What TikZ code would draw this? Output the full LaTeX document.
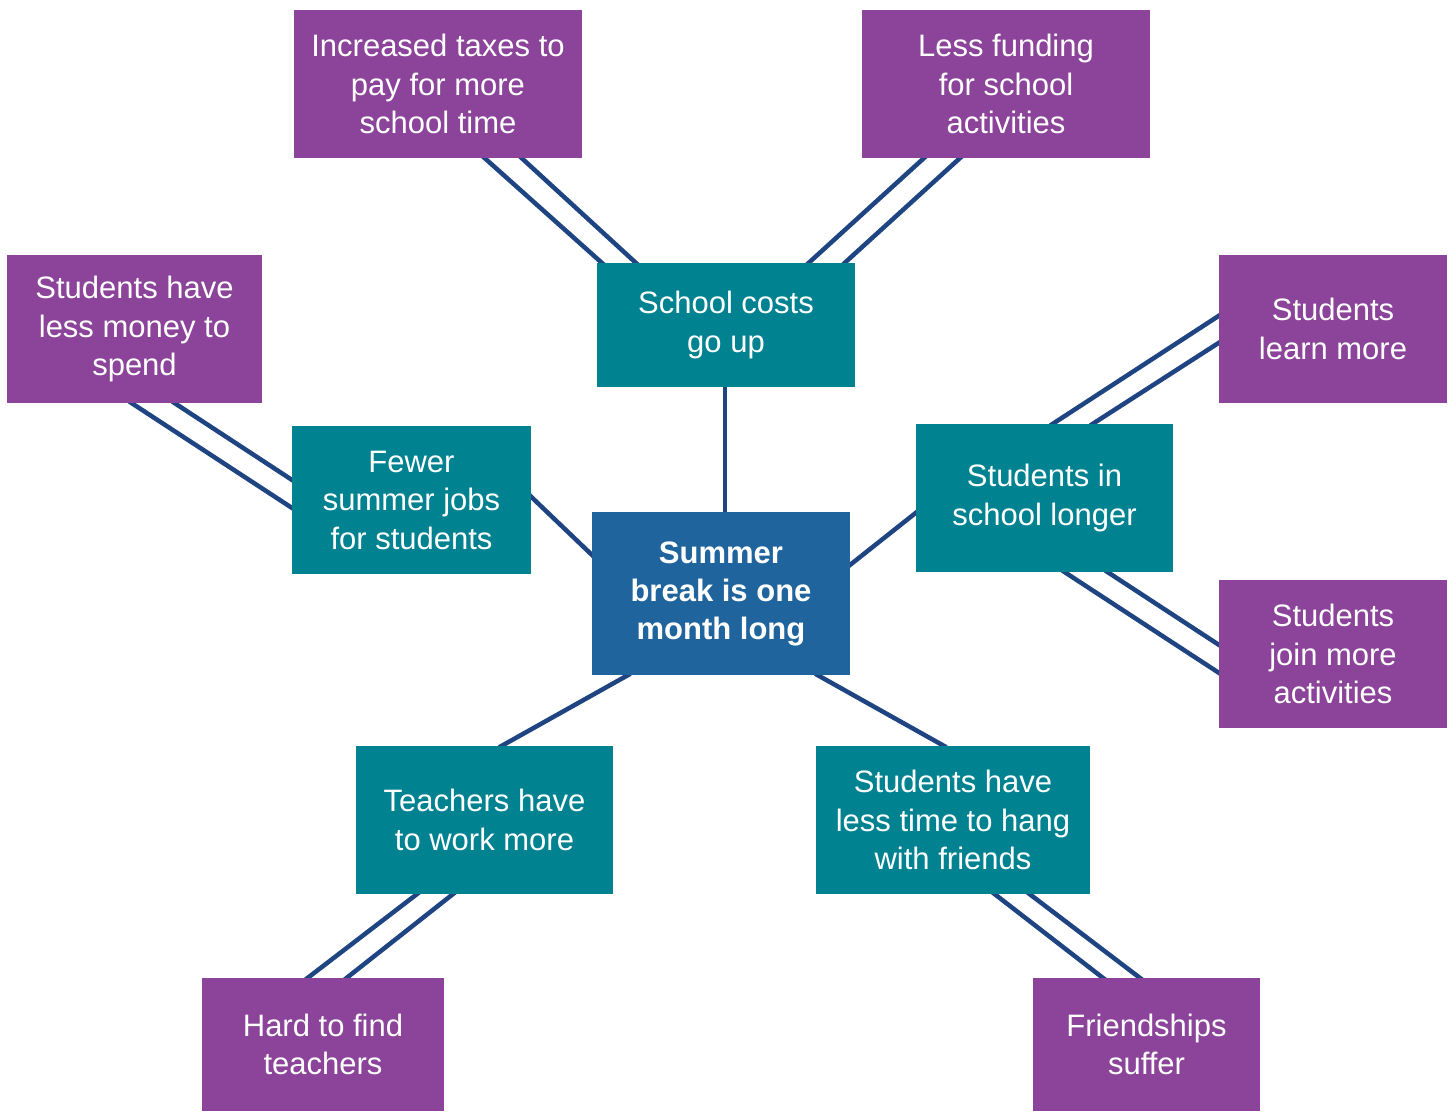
\documentclass[tikz,border=0pt]{standalone}
\usepackage{fontspec}
\setmainfont{Liberation Sans}
\usetikzlibrary{calc,backgrounds}
\definecolor{purp}{HTML}{8B4499}
\definecolor{tealc}{HTML}{008291}
\definecolor{cblue}{HTML}{1F649C}
\definecolor{navyc}{HTML}{1F4482}
\begin{document}
\begin{tikzpicture}[x=1pt,y=-1pt,
  box/.style={rectangle, inner sep=0pt, text=white, align=center, font=\fontsize{31}{38.5}\selectfont},
  outer/.style={box, fill=purp},
  mid/.style={box, fill=tealc},
  core/.style={box, fill=cblue, font=\fontsize{31}{38}\selectfont\bfseries},
  link/.style={draw=navyc, line width=4.5pt, shorten <=-3pt, shorten >=-3pt}]
\useasboundingbox (0,0) rectangle (1452,1112);
% nodes
\node[core, minimum width=258pt, minimum height=163pt] (cb) at (721,593.5) {Summer\\ break is one\\ month long};
\node[mid, minimum width=258pt, minimum height=124pt] (sc) at (726,325) {School costs\\ go up};
\node[outer, minimum width=288pt, minimum height=148pt] (tax) at (438,84) {Increased taxes to\\ pay for more\\ school time};
\node[outer, minimum width=288pt, minimum height=148pt] (lf) at (1006,84) {Less funding\\ for school\\ activities};
\node[outer, minimum width=255pt, minimum height=148pt] (money) at (134.5,329) {Students have\\ less money to\\ spend};
\node[mid, minimum width=239pt, minimum height=148pt] (jobs) at (411.5,500) {Fewer\\ summer jobs\\ for students};
\node[mid, minimum width=257pt, minimum height=148pt] (sl) at (1044.5,498) {Students in\\ school longer};
\node[outer, minimum width=228pt, minimum height=148pt] (lm) at (1333,329) {Students\\ learn more};
\node[outer, minimum width=228pt, minimum height=148pt] (jm) at (1333,654) {Students\\ join more\\ activities};
\node[mid, minimum width=257pt, minimum height=148pt] (tw) at (484.5,820) {Teachers have\\ to work more};
\node[mid, minimum width=274pt, minimum height=148pt] (lt) at (953,820) {Students have\\ less time to hang\\ with friends};
\node[outer, minimum width=242pt, minimum height=133pt] (hf) at (323,1044.5) {Hard to find\\ teachers};
\node[outer, minimum width=227pt, minimum height=133pt] (fs) at (1146.5,1044.5) {Friendships\\ suffer};
\begin{pgfonlayer}{background}
\fill[white] (0,0) rectangle (1452,1112);
% single links
\draw[link] ($(sc.south west)+(128,0)$) -- ($(cb.north west)+(133,0)$);
\draw[link] ($(jobs.north east)+(0,71)$) -- ($(cb.north west)+(0,43)$);
\draw[link] ($(sl.north west)+(0,89)$) -- ($(cb.north east)+(0,53)$);
\draw[link] ($(cb.south west)+(36,0)$) -- ($(tw.north west)+(146,0)$);
\draw[link] ($(cb.south west)+(226,0)$) -- ($(lt.north west)+(128,0)$);
% double links
\draw[link] ($(tax.south west)+(191,0)$) -- ($(sc.north west)+(5,0)$);
\draw[link] ($(tax.south west)+(228,0)$) -- ($(sc.north west)+(39,0)$);
\draw[link] ($(lf.south west)+(62,0)$) -- ($(sc.north west)+(212,0)$);
\draw[link] ($(lf.south west)+(98,0)$) -- ($(sc.north west)+(248,0)$);
\draw[link] ($(money.south west)+(125,0)$) -- ($(jobs.north west)+(0,82)$);
\draw[link] ($(money.south west)+(168,0)$) -- ($(jobs.north west)+(0,54)$);
\draw[link] ($(sl.north west)+(137,0)$) -- ($(lm.north west)+(0,61)$);
\draw[link] ($(sl.north west)+(177,0)$) -- ($(lm.north west)+(0,88)$);
\draw[link] ($(sl.south west)+(149,0)$) -- ($(jm.north west)+(0,93)$);
\draw[link] ($(sl.south west)+(192,0)$) -- ($(jm.north west)+(0,65)$);
\draw[link] ($(tw.south west)+(61,0)$) -- ($(hf.north west)+(106,0)$);
\draw[link] ($(tw.south west)+(97,0)$) -- ($(hf.north west)+(145,0)$);
\draw[link] ($(lt.south west)+(179,0)$) -- ($(fs.north west)+(70,0)$);
\draw[link] ($(lt.south west)+(214,0)$) -- ($(fs.north west)+(107,0)$);
\end{pgfonlayer}
\end{tikzpicture}
\end{document}
